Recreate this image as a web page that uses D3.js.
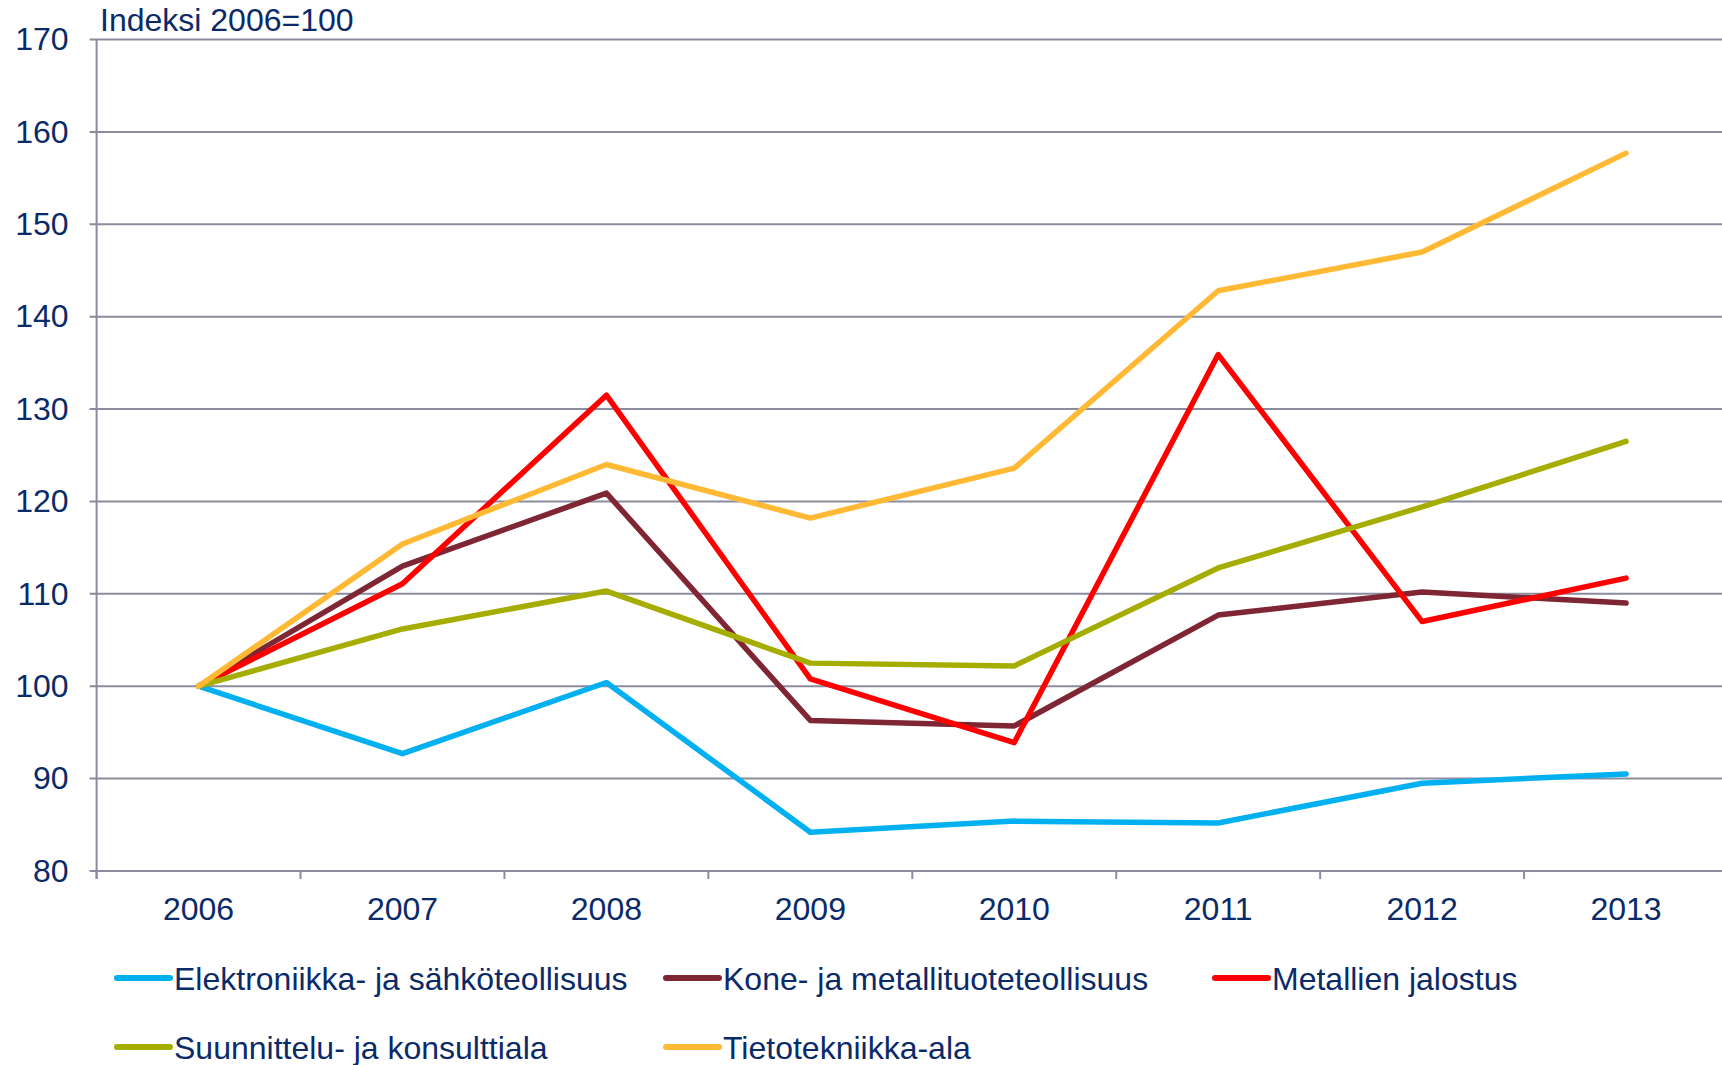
<!DOCTYPE html>
<html lang="fi">
<head>
    <meta charset="UTF-8">
    <title>Indeksi 2006=100</title>
    <script src="https://d3js.org/d3.v7.min.js"></script>
    <style>
        html, body { margin: 0; padding: 0; background: #fff; }
        svg { display: block; font-family: "Liberation Sans", Arial, sans-serif; }
    </style>
</head>
<body>
<script>
    // data
    const years = ["2006", "2007", "2008", "2009", "2010", "2011", "2012", "2013"];
    const seriesNames = [
        "Elektroniikka- ja sähköteollisuus",
        "Kone- ja metallituoteteollisuus",
        "Metallien jalostus",
        "Suunnittelu- ja konsulttiala",
        "Tietotekniikka-ala"
    ];
    const elektroniikka = [100, 92.7, 100.4, 84.2, 85.4, 85.2, 89.5, 90.5];
    const kone = [100, 113.0, 120.9, 96.3, 95.7, 107.7, 110.2, 109.0];
    const metallien = [100, 111.1, 131.5, 100.8, 93.9, 135.9, 107.0, 111.7];
    const suunnittelu = [100, 106.2, 110.3, 102.5, 102.2, 112.8, 119.4, 126.5];
    const tieto = [100, 115.4, 124.0, 118.2, 123.6, 142.8, 147.0, 157.7];
    const yTicks = [80, 90, 100, 110, 120, 130, 140, 150, 160, 170];
    const colors = ["#00b0f0", "#7f2634", "#ff0000", "#a5ad00", "#ffb935"];

    const allSeries = [elektroniikka, kone, metallien, suunnittelu, tieto];

    const W = 1722, H = 1065;
    const mLeft = 96.6, mRight = 1728, mTop = 39.5, mBottom = 871;
    const textColor = "#0b2a68";
    const gridColor = "#8a8c9d";
    const fontSize = 32;

    const svg = d3.select("body").append("svg")
        .attr("width", W)
        .attr("height", H);

    const x = d3.scaleBand().domain(years).range([mLeft, mRight]);
    const y = d3.scaleLinear().domain([80, 170]).range([mBottom, mTop]);

    // gridlines
    svg.append("g")
        .selectAll("line")
        .data(yTicks)
        .enter()
        .append("line")
        .attr("x1", mLeft - 7)
        .attr("x2", W)
        .attr("y1", d => y(d))
        .attr("y2", d => y(d))
        .attr("stroke", gridColor)
        .attr("stroke-width", 2);

    // y axis
    const yAxis = svg.append("g")
        .attr("transform", `translate(${mLeft},0)`)
        .call(d3.axisLeft(y).tickValues(yTicks).tickSize(0).tickPadding(28));
    yAxis.select(".domain").remove();
    yAxis.selectAll("text")
        .attr("fill", textColor)
        .attr("font-size", fontSize)
        .attr("font-family", "Liberation Sans, Arial, sans-serif");

    svg.append("line")
        .attr("x1", mLeft).attr("x2", mLeft)
        .attr("y1", mTop).attr("y2", mBottom + 8)
        .attr("stroke", gridColor)
        .attr("stroke-width", 2);

    // x axis ticks between categories
    const xBoundaries = years.map(d => x(d)).concat([x(years[years.length - 1]) + x.bandwidth()]);
    svg.append("g")
        .selectAll("line")
        .data(xBoundaries)
        .enter()
        .append("line")
        .attr("x1", d => d).attr("x2", d => d)
        .attr("y1", mBottom).attr("y2", mBottom + 8)
        .attr("stroke", gridColor)
        .attr("stroke-width", 2);

    svg.append("g")
        .selectAll("text")
        .data(years)
        .enter()
        .append("text")
        .attr("x", d => x(d) + x.bandwidth() / 2)
        .attr("y", 920)
        .attr("text-anchor", "middle")
        .attr("fill", textColor)
        .attr("font-size", fontSize)
        .text(d => d);

    // axis title
    svg.append("text")
        .attr("x", 100)
        .attr("y", 31)
        .attr("fill", textColor)
        .attr("font-size", fontSize)
        .text("Indeksi 2006=100");

    // lines
    const line = d3.line()
        .x((d, i) => x(years[i]) + x.bandwidth() / 2)
        .y(d => y(d));

    svg.append("g")
        .selectAll("path")
        .data(allSeries)
        .enter()
        .append("path")
        .attr("d", d => line(d))
        .attr("fill", "none")
        .attr("stroke", (d, i) => colors[i])
        .attr("stroke-width", 5.5)
        .attr("stroke-linejoin", "round")
        .attr("stroke-linecap", "round");

    // legend
    const legendPos = [
        [117, 978], [666, 978], [1215, 978],
        [117, 1047], [666, 1047]
    ];
    const legend = svg.append("g")
        .selectAll("g")
        .data(seriesNames)
        .enter()
        .append("g")
        .attr("transform", (d, i) => `translate(${legendPos[i][0]},${legendPos[i][1]})`);

    legend.append("line")
        .attr("x1", 0).attr("x2", 53)
        .attr("y1", 0).attr("y2", 0)
        .attr("stroke", (d, i) => colors[i])
        .attr("stroke-width", 6)
        .attr("stroke-linecap", "round");

    legend.append("text")
        .attr("x", 57)
        .attr("y", 11.5)
        .attr("fill", textColor)
        .attr("font-size", fontSize)
        .text(d => d);
</script>
</body>
</html>
